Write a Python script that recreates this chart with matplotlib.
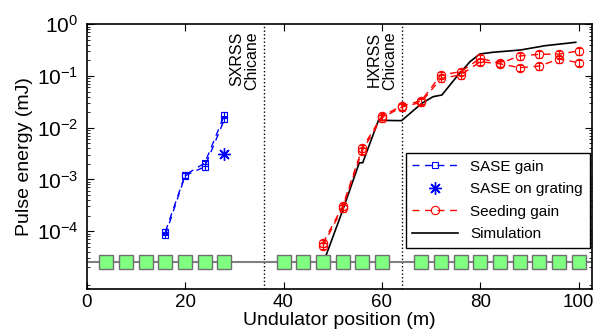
import numpy as np
import matplotlib.pyplot as plt
from matplotlib.lines import Line2D

plt.rcParams['font.family'] = ['Liberation Sans', 'DejaVu Sans']
plt.rcParams['mathtext.fontset'] = 'custom'
plt.rcParams['mathtext.rm'] = 'Liberation Sans'
plt.rcParams['mathtext.it'] = 'Liberation Sans'

# undulator segment positions (m)
und_pos = [4, 8, 12, 16, 20, 24, 28,
           40, 44, 48, 52, 56, 60,
           68, 72, 76, 80, 84, 88, 92, 96, 100]
und_level = 2.5e-5

# chicane positions
chicane_pos = [36, 64]
chicane_names = ["SXRSS\nChicane", "HXRSS\nChicane"]

# SASE gain (two shot sets)
sase_x = [16, 20, 24, 28]
sase_a = [9.8e-5, 1.22e-3, 2.07e-3, 1.76e-2]
sase_b = [8.4e-5, 1.18e-3, 1.76e-3, 1.45e-2]

# SASE on grating
grating_x = [28]
grating_y = [3.06e-3]

# seeding gain (two shot sets)
seed_x = [48, 52, 56, 60, 64, 68, 72, 76, 80, 84, 88, 92, 96, 100]
seed_a = [5.8e-5, 3.0e-4, 4.0e-3, 1.68e-2, 2.63e-2, 3.33e-2, 0.105, 0.121,
          0.22, 0.176, 0.244, 0.263, 0.266, 0.305]
seed_b = [5.2e-5, 2.8e-4, 3.6e-3, 1.55e-2, 2.5e-2, 3.1e-2, 0.090, 0.105,
          0.189, 0.172, 0.145, 0.156, 0.213, 0.181]

# simulation
sim_x = [48.2, 51.8, 55.4, 56.1, 59.3, 64.0, 68.1, 70.4, 72.2, 75.2, 77.9,
         79.9, 82.6, 88.1, 93.2, 99.4]
sim_y = [2.6e-5, 2.2e-4, 2.1e-3, 2.1e-3, 1.39e-2, 1.37e-2, 2.96e-2, 3.98e-2,
         4.3e-2, 9.7e-2, 0.189, 0.267, 0.288, 0.318, 0.386, 0.449]

fig = plt.figure(figsize=(6.05, 3.33), dpi=100)
ax = fig.add_axes([0.1433, 0.1321, 0.8352, 0.7949])
ax.set_yscale('log')

# undulator line and segments
ax.plot([0, 102.7], [und_level, und_level], color='#808080', lw=1.5, zorder=2)
ax.plot(und_pos, [und_level] * len(und_pos), 's', ms=10, mfc='#80ff80',
        mec='#707070', mew=1, zorder=5)

for xc, name in zip(chicane_pos, chicane_names):
    ax.axvline(xc, color='k', ls=':', lw=1, zorder=1)
    ax.text(xc - 0.9, 0.972, name, transform=ax.get_xaxis_transform(),
            rotation=90, ha='right', va='top', fontsize=11.5,
            multialignment='right', linespacing=1.05)

blue = (0, 0, 1)
red = (1, 0, 0)
asterisk = (8, 2, 0)
for ys in (sase_a, sase_b):
    err = np.array(ys) * 0.12
    ax.errorbar(sase_x, ys, yerr=err, fmt='--s', color=blue, ms=5,
                mfc='none', mew=0.8, lw=1, elinewidth=0.8, capsize=2,
                dashes=(5, 4), zorder=4)
ax.plot(grating_x, grating_y, ls='none', marker=asterisk, color=blue, ms=9,
        mew=1, zorder=4)

for ys in (seed_a, seed_b):
    err = np.array(ys) * 0.15
    ax.errorbar(seed_x, ys, yerr=err, fmt='--o', color=red, ms=6,
                mfc='none', mew=0.8, lw=1, elinewidth=0.8, capsize=2,
                dashes=(5, 4), zorder=4)

ax.plot(sim_x, sim_y, '-', color='k', lw=1.2, zorder=3)

ax.set_xlim(0, 102.7)
ax.set_ylim(7.6e-6, 1)
ax.set_yticks([1e-4, 1e-3, 1e-2, 1e-1, 1])
ax.set_xticks([0, 20, 40, 60, 80, 100])
ax.tick_params(which='both', direction='in', top=True, right=True,
               labelsize=13.5)
ax.tick_params(axis='y', pad=6, labelsize=15)
ax.tick_params(which='major', length=5, width=0.8)
ax.tick_params(which='minor', length=2.5, width=0.6)
ax.xaxis.set_minor_locator(plt.NullLocator())
for sp in ax.spines.values():
    sp.set_linewidth(1.2)

ax.set_xlabel('Undulator position (m)', fontsize=14, labelpad=1)
ax.set_ylabel('Pulse energy (mJ)', fontsize=14, labelpad=3)

handles = [
    Line2D([], [], color=blue, ls='--', dashes=(5, 4), marker='s', ms=5,
           mfc='none', mew=0.8, lw=1),
    Line2D([], [], color=blue, ls='none', marker=asterisk, ms=9, mew=1),
    Line2D([], [], color=red, ls='--', dashes=(5, 4), marker='o', ms=6,
           mfc='none', mew=0.8, lw=1),
    Line2D([], [], color='k', lw=1.2),
]
labels = ['SASE gain', 'SASE on grating', 'Seeding gain', 'Simulation']
leg = ax.legend(handles, labels, loc='upper right',
                bbox_to_anchor=(0.996, 0.514), fontsize=11,
                fancybox=False, edgecolor='k', framealpha=1,
                handlelength=3.0, borderaxespad=0, labelspacing=0.55,
                borderpad=0.45)
leg.get_frame().set_linewidth(1)
leg.set_zorder(6)

fig.savefig('out.png', dpi=100)
